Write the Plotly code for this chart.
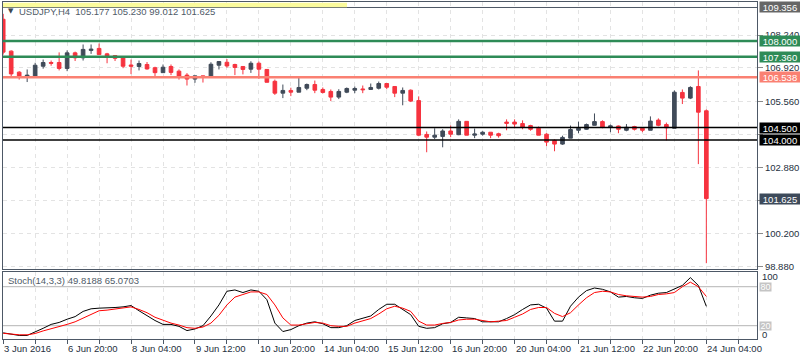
import plotly.graph_objects as go

# ---------------- data ----------------
x_labels = ["3 Jun 2016", "6 Jun 20:00", "8 Jun 04:00", "9 Jun 12:00", "10 Jun 20:00",
            "14 Jun 04:00", "15 Jun 12:00", "16 Jun 20:00", "20 Jun 04:00",
            "21 Jun 12:00", "22 Jun 20:00", "24 Jun 04:00"]
x_label_bars = [0, 8, 16, 24, 32, 40, 48, 56, 64, 72, 80, 88]

opens = [108.88, 107.59, 106.74, 106.55, 106.54, 106.98, 107.13, 107.13, 106.89, 107.52,
         107.32, 107.62, 107.70, 107.48, 107.41, 107.33, 107.03, 106.97, 107.05, 106.92,
         106.72, 106.97, 106.78, 106.62, 106.46, 106.59, 106.54, 107.02, 107.14, 107.05,
         106.97, 106.86, 107.10, 106.85, 106.37, 105.89, 106.00, 105.93, 106.09, 106.24,
         106.04, 105.96, 105.73, 105.93, 106.01, 106.06, 106.04, 106.09, 106.28, 106.16,
         105.89, 106.01, 105.59, 104.22, 104.11, 104.14, 104.36, 104.21, 104.75, 104.19,
         104.23, 104.31, 104.25, 104.72, 104.72, 104.66, 104.58, 104.47, 104.23, 103.98,
         103.83, 104.07, 104.39, 104.43, 104.59, 104.74, 104.50, 104.56, 104.39, 104.54,
         104.47, 104.39, 104.80, 104.62, 104.47, 105.92, 105.69, 106.16, 105.177]
highs = [109.10, 107.62, 106.78, 106.85, 107.12, 107.25, 107.21, 107.54, 107.62, 107.57,
         107.86, 107.86, 107.90, 107.52, 107.41, 107.33, 107.25, 107.21, 107.15, 106.96,
         107.05, 107.05, 106.85, 106.70, 106.59, 106.59, 107.14, 107.17, 107.27, 107.08,
         106.97, 107.18, 107.17, 106.85, 106.44, 106.24, 106.11, 106.56, 106.28, 106.40,
         106.12, 106.04, 106.05, 106.12, 106.16, 106.20, 106.28, 106.36, 106.28, 106.16,
         106.12, 106.04, 105.76, 104.34, 104.47, 104.43, 104.58, 104.83, 104.75, 104.46,
         104.35, 104.31, 104.29, 104.83, 104.83, 104.79, 104.61, 104.54, 104.27, 104.02,
         104.17, 104.58, 104.74, 104.66, 105.07, 104.79, 104.62, 104.58, 104.64, 104.57,
         104.51, 104.95, 104.87, 104.70, 106.00, 106.04, 106.17, 106.81, 105.230]
lows = [107.45, 106.58, 106.44, 106.34, 106.51, 106.88, 107.00, 106.81, 106.78, 107.19,
        107.21, 107.48, 107.45, 107.10, 107.19, 106.90, 106.66, 106.81, 106.84, 106.54,
        106.72, 106.62, 106.44, 106.20, 106.31, 106.32, 106.51, 106.85, 106.92, 106.62,
        106.65, 106.71, 106.47, 106.33, 105.82, 105.69, 105.77, 105.93, 106.01, 105.89,
        105.88, 105.57, 105.65, 105.89, 105.89, 105.89, 106.04, 106.04, 106.05, 105.73,
        105.40, 105.53, 104.15, 103.50, 104.03, 103.70, 104.11, 104.19, 104.19, 104.07,
        104.17, 104.07, 104.09, 104.39, 104.47, 104.43, 104.37, 104.19, 103.75, 103.54,
        103.80, 104.07, 104.27, 104.41, 104.59, 104.47, 104.31, 104.27, 104.35, 104.38,
        104.31, 104.39, 104.55, 103.98, 104.47, 105.45, 105.65, 103.02, 99.012]
closes = [107.55, 106.67, 106.53, 106.62, 107.02, 107.13, 107.10, 106.89, 107.52, 107.32,
          107.66, 107.67, 107.45, 107.39, 107.30, 106.98, 106.98, 107.09, 106.87, 106.72,
          106.94, 106.73, 106.58, 106.46, 106.59, 106.54, 107.06, 107.17, 106.99, 106.93,
          106.85, 107.10, 106.86, 106.33, 105.89, 106.00, 105.93, 106.12, 106.24, 106.01,
          105.92, 105.73, 105.96, 106.08, 106.08, 106.03, 106.12, 106.28, 106.13, 105.89,
          106.00, 105.57, 104.19, 104.11, 104.19, 104.36, 104.23, 104.75, 104.19, 104.24,
          104.31, 104.19, 104.17, 104.67, 104.64, 104.51, 104.43, 104.19, 103.91, 103.83,
          104.10, 104.42, 104.47, 104.62, 104.74, 104.50, 104.57, 104.43, 104.51, 104.43,
          104.39, 104.76, 104.59, 104.49, 105.93, 105.69, 106.12, 105.12, 101.625]

stoch_k = [9, 7, 5, 5, 10, 16, 22, 25, 30, 34,
           42, 46, 47, 47, 48, 49, 51, 43, 35, 28,
           22, 22, 19, 12.5, 15, 20, 35, 52, 73, 75,
           71, 75, 73, 60, 24, 11, 14, 20, 24, 26,
           23, 17, 17, 20, 28, 31, 35, 45, 53, 53,
           45, 37, 19, 16, 17, 23, 25, 33, 32, 31,
           26, 26, 26, 31, 37, 45, 52, 53, 47, 27,
           27, 50, 64, 74, 78, 76, 72, 64, 65, 63,
           62, 67, 70, 71, 77, 82, 94, 82, 49.8188]
stoch_d = [8.3, 7, 6, 6, 8, 12, 15, 18.5, 22, 26,
           32, 38, 43, 44, 46, 47, 49, 45, 40, 33,
           28, 24, 21, 17, 16, 18, 24, 36, 52, 64,
           68, 72, 72, 68, 52, 32, 21, 21, 23, 25,
           24, 20, 19, 19, 24, 27, 31, 38, 46, 50,
           47, 42, 27, 21, 21, 23.5, 25, 28.8, 30, 30,
           28, 26, 27, 28, 33, 38, 45, 48, 48, 39,
           34, 40, 52, 63, 71, 73, 72, 68, 66, 65,
           64, 65, 68, 69, 71, 80, 87, 80, 65.0703]

price_ticks = [98.880, 100.200, 101.540, 102.880, 104.220, 105.560, 106.920, 108.240]
# tick labels fully covered by the price boxes in the terminal are left blank
price_tick_text = ["98.880", "100.200", "", "102.880", "", "105.560", "106.920", "108.240"]

level_values = [108.000, 107.360, 106.538, 104.500, 104.000]
level_colors = ["#2e8b57", "#2e8b57", "#fa8072", "#000000", "#000000"]
level_widths = [2.5, 2.5, 2.5, 1.5, 1.5]

scale_max = 109.356
last_close = 101.625
symbol = "USDJPY,H4"
stoch_name = "Stoch(14,3,3)"

# ---------------- layout helpers ----------------
W, H = 800, 360
ML, MR, MT, MB = 3, 43, 2, 21
PW, PH = W - ML - MR, H - MT - MB


def px_x(p):
    return (p - ML) / PW


def px_y(p):
    return (H - MB - p) / PH


BULL = "#404b59"
BEAR = "#f6333f"
AX = "#4d5866"
GRID = "#e3e3e3"
TXT = "#253040"
FONT = "Liberation Sans"

bars = list(range(len(opens)))

fig = go.Figure()
fig.add_trace(go.Candlestick(
    x=bars, open=opens, high=highs, low=lows, close=closes,
    increasing=dict(line=dict(color=BULL, width=1), fillcolor=BULL),
    decreasing=dict(line=dict(color=BEAR, width=1), fillcolor=BEAR),
    whiskerwidth=0, xaxis="x", yaxis="y", hoverinfo="skip"))
fig.add_trace(go.Scatter(x=bars, y=stoch_k, mode="lines",
                         line=dict(color="#000000", width=1),
                         xaxis="x2", yaxis="y2", hoverinfo="skip"))
fig.add_trace(go.Scatter(x=bars, y=stoch_d, mode="lines",
                         line=dict(color="#ff0000", width=1),
                         xaxis="x2", yaxis="y2", hoverinfo="skip"))

xr = [-0.025, 94.34]
grid_bars = list(range(0, 95, 4))
main_bottom = px_y(269)
stoch_top = px_y(271.7)

shapes = []
annotations = []

# top scale line and yellow strip
shapes.append(dict(type="line", xref="paper", yref="y", x0=0, x1=1,
                   y0=scale_max, y1=scale_max, line=dict(color=AX, width=1)))
shapes.append(dict(type="rect", xref="paper", yref="paper",
                   x0=px_x(3), x1=px_x(347), y0=px_y(7.3), y1=px_y(2.7),
                   fillcolor="#fbfb9c", line=dict(width=0)))

for v, c, w in zip(level_values, level_colors, level_widths):
    shapes.append(dict(type="line", xref="paper", yref="y", x0=0, x1=1,
                       y0=v, y1=v, line=dict(color=c, width=w), layer="above"))

for v in (80, 20):
    shapes.append(dict(type="line", xref="paper", yref="y2", x0=0, x1=1,
                       y0=v, y1=v, line=dict(color="#b4b4b4", width=1), layer="below"))

# price boxes on the right scale
box_specs = [(scale_max, "#666666")] + list(zip(level_values, level_colors)) + [(last_close, "#3d4a5a")]
for v, c in box_specs:
    annotations.append(dict(
        x=px_x(759), xref="paper", y=v, yref="y", xanchor="left", yanchor="middle",
        text=f"{v:.3f}", showarrow=False, bgcolor=c, width=40, height=10,
        borderpad=0, align="center",
        font=dict(family=FONT, size=9.5, color="#ffffff")))

# stochastic scale labels
for v, yp in (("100", 276.5), ("0", 334.5)):
    annotations.append(dict(x=px_x(760), xref="paper", y=px_y(yp), yref="paper",
                            xanchor="left", yanchor="middle", text=v, showarrow=False,
                            font=dict(family=FONT, size=9.5, color=TXT)))
for v in (80, 20):
    annotations.append(dict(x=px_x(759), xref="paper", y=v, yref="y2",
                            xanchor="left", yanchor="middle", text=str(v), showarrow=False,
                            bgcolor="#c4c4c4", width=11, height=8, borderpad=0,
                            font=dict(family=FONT, size=9, color="#ffffff")))

# x-axis labels (left-aligned at tick like the terminal)
for b, t in zip(x_label_bars, x_labels):
    annotations.append(dict(x=b, xref="x2", y=px_y(349), yref="paper",
                            xanchor="left", yanchor="middle", xshift=-1,
                            text=t, showarrow=False,
                            font=dict(family=FONT, size=9.5, color=TXT)))

# header texts
header = f"{symbol}  {opens[-1]:.3f} {highs[-1]:.3f} {lows[-1]:.3f} {closes[-1]:.3f}"
annotations.append(dict(x=px_x(6), xref="paper", y=px_y(10.5), yref="paper",
                        xanchor="left", yanchor="middle", text="▼", showarrow=False,
                        font=dict(family="DejaVu Sans", size=7, color="#3d4650")))
annotations.append(dict(x=px_x(17), xref="paper", y=px_y(11), yref="paper",
                        xanchor="left", yanchor="middle", text=header, showarrow=False,
                        font=dict(family=FONT, size=9.5, color="#4f5b68")))
stoch_title = f"{stoch_name} {stoch_k[-1]:.4f} {stoch_d[-1]:.4f}"
annotations.append(dict(x=px_x(6), xref="paper", y=px_y(280), yref="paper",
                        xanchor="left", yanchor="middle", text=stoch_title, showarrow=False,
                        font=dict(family=FONT, size=9.5, color="#4f5b68")))

fig.update_layout(
    width=W, height=H,
    margin=dict(l=ML, r=MR, t=MT, b=MB),
    paper_bgcolor="#ffffff", plot_bgcolor="#ffffff",
    showlegend=False, boxgap=0.35,
    font=dict(family=FONT, size=9.5, color=TXT),
    xaxis=dict(domain=[0, 1], anchor="y", range=xr, tickvals=grid_bars,
               showticklabels=False, ticks="", showgrid=True, gridcolor=GRID,
               griddash="4px,4px", gridwidth=1, zeroline=False,
               showline=True, mirror=True, linecolor=AX, linewidth=1,
               rangeslider=dict(visible=False), fixedrange=True),
    yaxis=dict(domain=[main_bottom, 1], anchor="x", side="right",
               range=[98.777, 109.578], tickvals=price_ticks,
               ticktext=price_tick_text,
               ticks="outside", ticklen=5, tickcolor="#8a8a8a",
               tickfont=dict(family=FONT, size=9.5, color=TXT),
               showgrid=True, gridcolor=GRID, griddash="4px,4px", zeroline=False,
               showline=True, mirror=True, linecolor=AX, linewidth=1),
    xaxis2=dict(domain=[0, 1], anchor="y2", matches="x", range=xr, tickvals=grid_bars,
                showticklabels=False, ticks="outside", ticklen=4, tickcolor=AX,
                showgrid=True, gridcolor=GRID, griddash="4px,4px", zeroline=False,
                showline=True, mirror=True, linecolor=AX, linewidth=1),
    yaxis2=dict(domain=[0, stoch_top], anchor="x2", side="right",
                range=[-0.46, 103.1], showgrid=False, showticklabels=False,
                ticks="", zeroline=False,
                showline=True, mirror=True, linecolor=AX, linewidth=1),
    shapes=shapes, annotations=annotations,
)

fig.write_html("out.html", config={"displayModeBar": False},
               post_script="document.body.style.margin='0';document.body.style.padding='0';")
